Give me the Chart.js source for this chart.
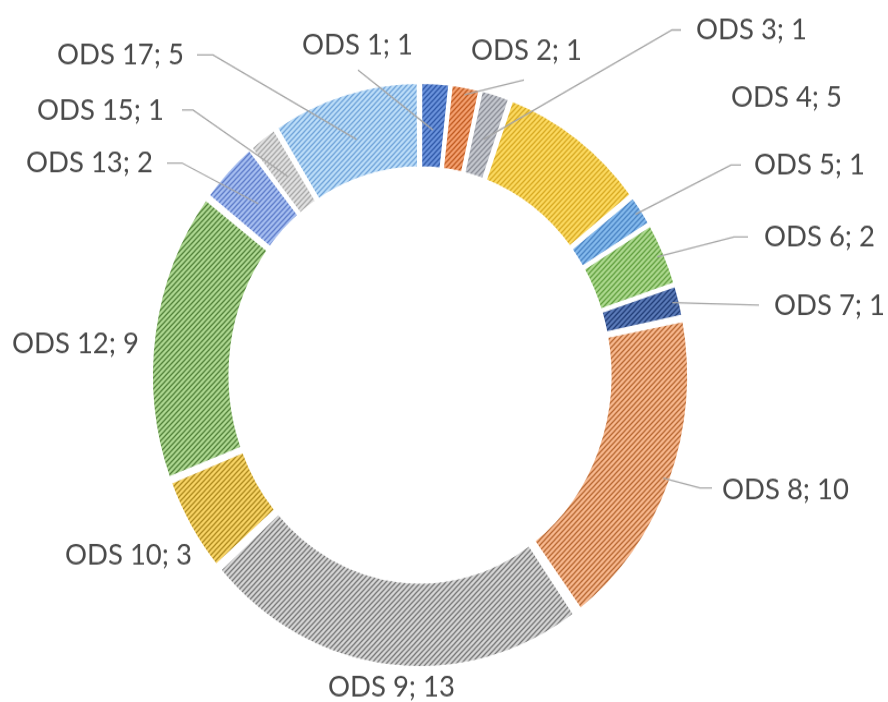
<!DOCTYPE html>
<html>
<head>
<meta charset="utf-8">
<script src="https://cdn.jsdelivr.net/npm/chart.js@4"></script>
<style>
  html, body { margin: 0; padding: 0; background: #fff; }
  #page { width: 888px; height: 702px; position: relative; overflow: hidden; }
  /* the reference is a slightly stretched Excel export, so stretch the whole drawing */
  #wrap { position: absolute; left: 0; top: 0; width: 888px; height: 644px;
          transform: scaleY(1.09); transform-origin: 0 0; }
  #donut { display: block; }
</style>
</head>
<body>
<div id="page"><div id="wrap"><canvas id="donut" width="888" height="644"></canvas></div></div>
<script>
// ---------------------------------------------------------------- data ----
const CATEGORIES = ['ODS 1', 'ODS 2', 'ODS 3', 'ODS 4', 'ODS 5', 'ODS 6', 'ODS 7',
  'ODS 8', 'ODS 9', 'ODS 10', 'ODS 12', 'ODS 13', 'ODS 15', 'ODS 17'];
const COUNTS = [1, 1, 1, 5, 1, 2, 1, 10, 13, 3, 9, 2, 1, 5];

// hatch fills: [background, stripe]
const HATCH = [
  ['#6b93dc', '#2f58a8'], ['#f4a070', '#c05a20'], ['#c4c7ce', '#8a8d96'],
  ['#fbd960', '#d8aa22'], ['#84b9ec', '#4a84c4'], ['#acd88e', '#62a040'],
  ['#5a7ab8', '#223e78'], ['#f7b88f', '#b86832'], ['#d6d6d6', '#777777'],
  ['#f8d466', '#ae8a1e'], ['#aed892', '#52823a'], ['#a6bef0', '#5e7cca'],
  ['#e0e0e0', '#a8a8a8'], ['#bcddf8', '#70a4da'],
];

// label placement in page pixels; from/elbow describe the leader line
const LABEL_LAYOUT = [
  { x: 302, y: 45, from: [358, 70], to: 'mid' },
  { x: 471, y: 50, from: [524, 80], to: 'outer' },
  { x: 696, y: 30, from: [681, 30], elbow: 672, to: 'mid' },
  { x: 731, y: 97 },
  { x: 754, y: 165, from: [741, 165], elbow: 731, to: 'outer' },
  { x: 764, y: 237, from: [748, 237], elbow: 734, to: 'outer' },
  { x: 774, y: 305, from: [759, 305], to: 'outer' },
  { x: 722, y: 490, from: [712, 488], elbow: 700, to: 'outer' },
  { x: 328, y: 687 },
  { x: 65, y: 555 },
  { x: 12, y: 343 },
  { x: 26, y: 163, from: [167, 163], elbow: 182, to: 'mid' },
  { x: 37, y: 110, from: [182, 110], elbow: 193, to: 'mid' },
  { x: 57, y: 55, from: [197, 55], elbow: 213, to: 'mid' },
];

(function () {
  'use strict';

  const SY = 1.09;
  const FONT = '27.5px Lato';
  const TEXT_COLOR = '#4a4a4a';
  const LINE_COLOR = '#a6a6a6';

  function hatch(bg, fg) {
    const n = 5;
    const tile = document.createElement('canvas');
    tile.width = n; tile.height = n;
    const t = tile.getContext('2d');
    t.fillStyle = bg; t.fillRect(0, 0, n, n);
    t.strokeStyle = fg; t.lineWidth = 1.25;
    t.beginPath();
    t.moveTo(0, n); t.lineTo(n, 0);
    t.moveTo(-1, 1); t.lineTo(1, -1);
    t.moveTo(n - 1, n + 1); t.lineTo(n + 1, n - 1);
    t.stroke();
    return t.createPattern(tile, 'repeat');
  }

  // -------------------------------------------------------- labels ----
  const odsLabels = {
    id: 'odsLabels',
    afterDatasetsDraw(chart) {
      const ctx = chart.ctx;
      const arcs = chart.getDatasetMeta(0).data;
      ctx.save();
      ctx.font = FONT;
      ctx.fillStyle = TEXT_COLOR;
      ctx.strokeStyle = LINE_COLOR;
      ctx.lineWidth = 1.3;
      ctx.textBaseline = 'middle';
      ctx.textAlign = 'left';
      arcs.forEach((arc, i) => {
        const L = LABEL_LAYOUT[i];
        ctx.fillText(`${CATEGORIES[i]}; ${COUNTS[i]}`, L.x, L.y / SY);
        if (!L.from) return;
        const p = arc.getProps(['x', 'y', 'startAngle', 'endAngle', 'innerRadius', 'outerRadius'], true);
        const a = (p.startAngle + p.endAngle) / 2;
        const r = L.to === 'outer' ? p.outerRadius - 4 : (p.innerRadius + p.outerRadius) / 2;
        ctx.beginPath();
        ctx.moveTo(L.from[0], L.from[1] / SY);
        if (L.elbow != null) ctx.lineTo(L.elbow, L.from[1] / SY);
        ctx.lineTo(p.x + Math.cos(a) * r, p.y + Math.sin(a) * r);
        ctx.stroke();
      });
      ctx.restore();
    },
  };

  new Chart(document.getElementById('donut'), {
    type: 'doughnut',
    data: {
      labels: CATEGORIES,
      datasets: [{
        data: COUNTS,
        backgroundColor: HATCH.map(h => hatch(h[0], h[1])),
        borderColor: '#ffffff',
        borderWidth: 4,
        spacing: 8,
      }],
    },
    options: {
      responsive: false,
      animation: false,
      cutout: '70%',
      layout: { padding: { left: 149, top: 73, right: 197, bottom: 29 } },
      plugins: { legend: { display: false }, tooltip: { enabled: false } },
    },
    plugins: [odsLabels],
  });
})();
</script>
</body>
</html>
